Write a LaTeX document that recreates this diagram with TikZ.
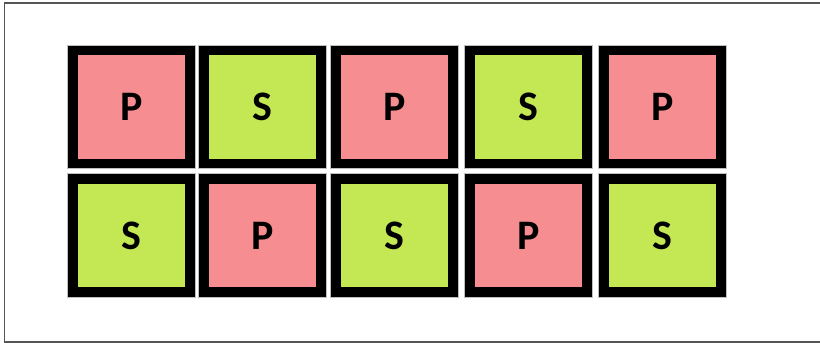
\documentclass[tikz,border=0pt]{standalone}
\usepackage{fontspec}
\setmainfont{Carlito}
\usepackage{xcolor}
\usepackage{tikz}
\usetikzlibrary{positioning}

\definecolor{pcolor}{RGB}{246,141,145}
\definecolor{scolor}{RGB}{196,232,84}
\definecolor{framegray}{RGB}{85,85,85}

\begin{document}
\begin{tikzpicture}[x=1pt, y=-1pt,
    cell/.style={rectangle, draw=black, line width=9.5pt,
        minimum width=117pt, minimum height=113pt, inner sep=0pt,
        font=\fontsize{42}{42}\selectfont\bfseries,
        preaction={draw=black!25, line width=11.5pt}},
    pcell/.style={cell, fill=pcolor},
    scell/.style={cell, fill=scolor}]
    % Canvas and outer frame
    \useasboundingbox (0,0) rectangle (820,343);
    \draw[framegray, line width=1.5pt] (820,3) -- (4.5,3) -- (4.5,342) -- (820,342);

    % Top row
    \node[pcell] (p1) at (131.5,107) {P\hspace{14pt}};
    \node[scell] (s1) at (262.5,107) {S\hspace{12pt}};
    \node[pcell] (p2) at (394.5,107) {P\hspace{14pt}};
    \node[scell] (s2) at (528.5,107) {S\hspace{12pt}};
    \node[pcell] (p3) at (662.5,107) {P\hspace{14pt}};

    % Bottom row
    \node[scell] (s3) at (131.5,235.5) {S\hspace{12pt}};
    \node[pcell] (p4) at (262.5,235.5) {P\hspace{14pt}};
    \node[scell] (s4) at (394.5,235.5) {S\hspace{12pt}};
    \node[pcell] (p5) at (528.5,235.5) {P\hspace{14pt}};
    \node[scell] (s5) at (662.5,235.5) {S\hspace{12pt}};
\end{tikzpicture}
\end{document}
